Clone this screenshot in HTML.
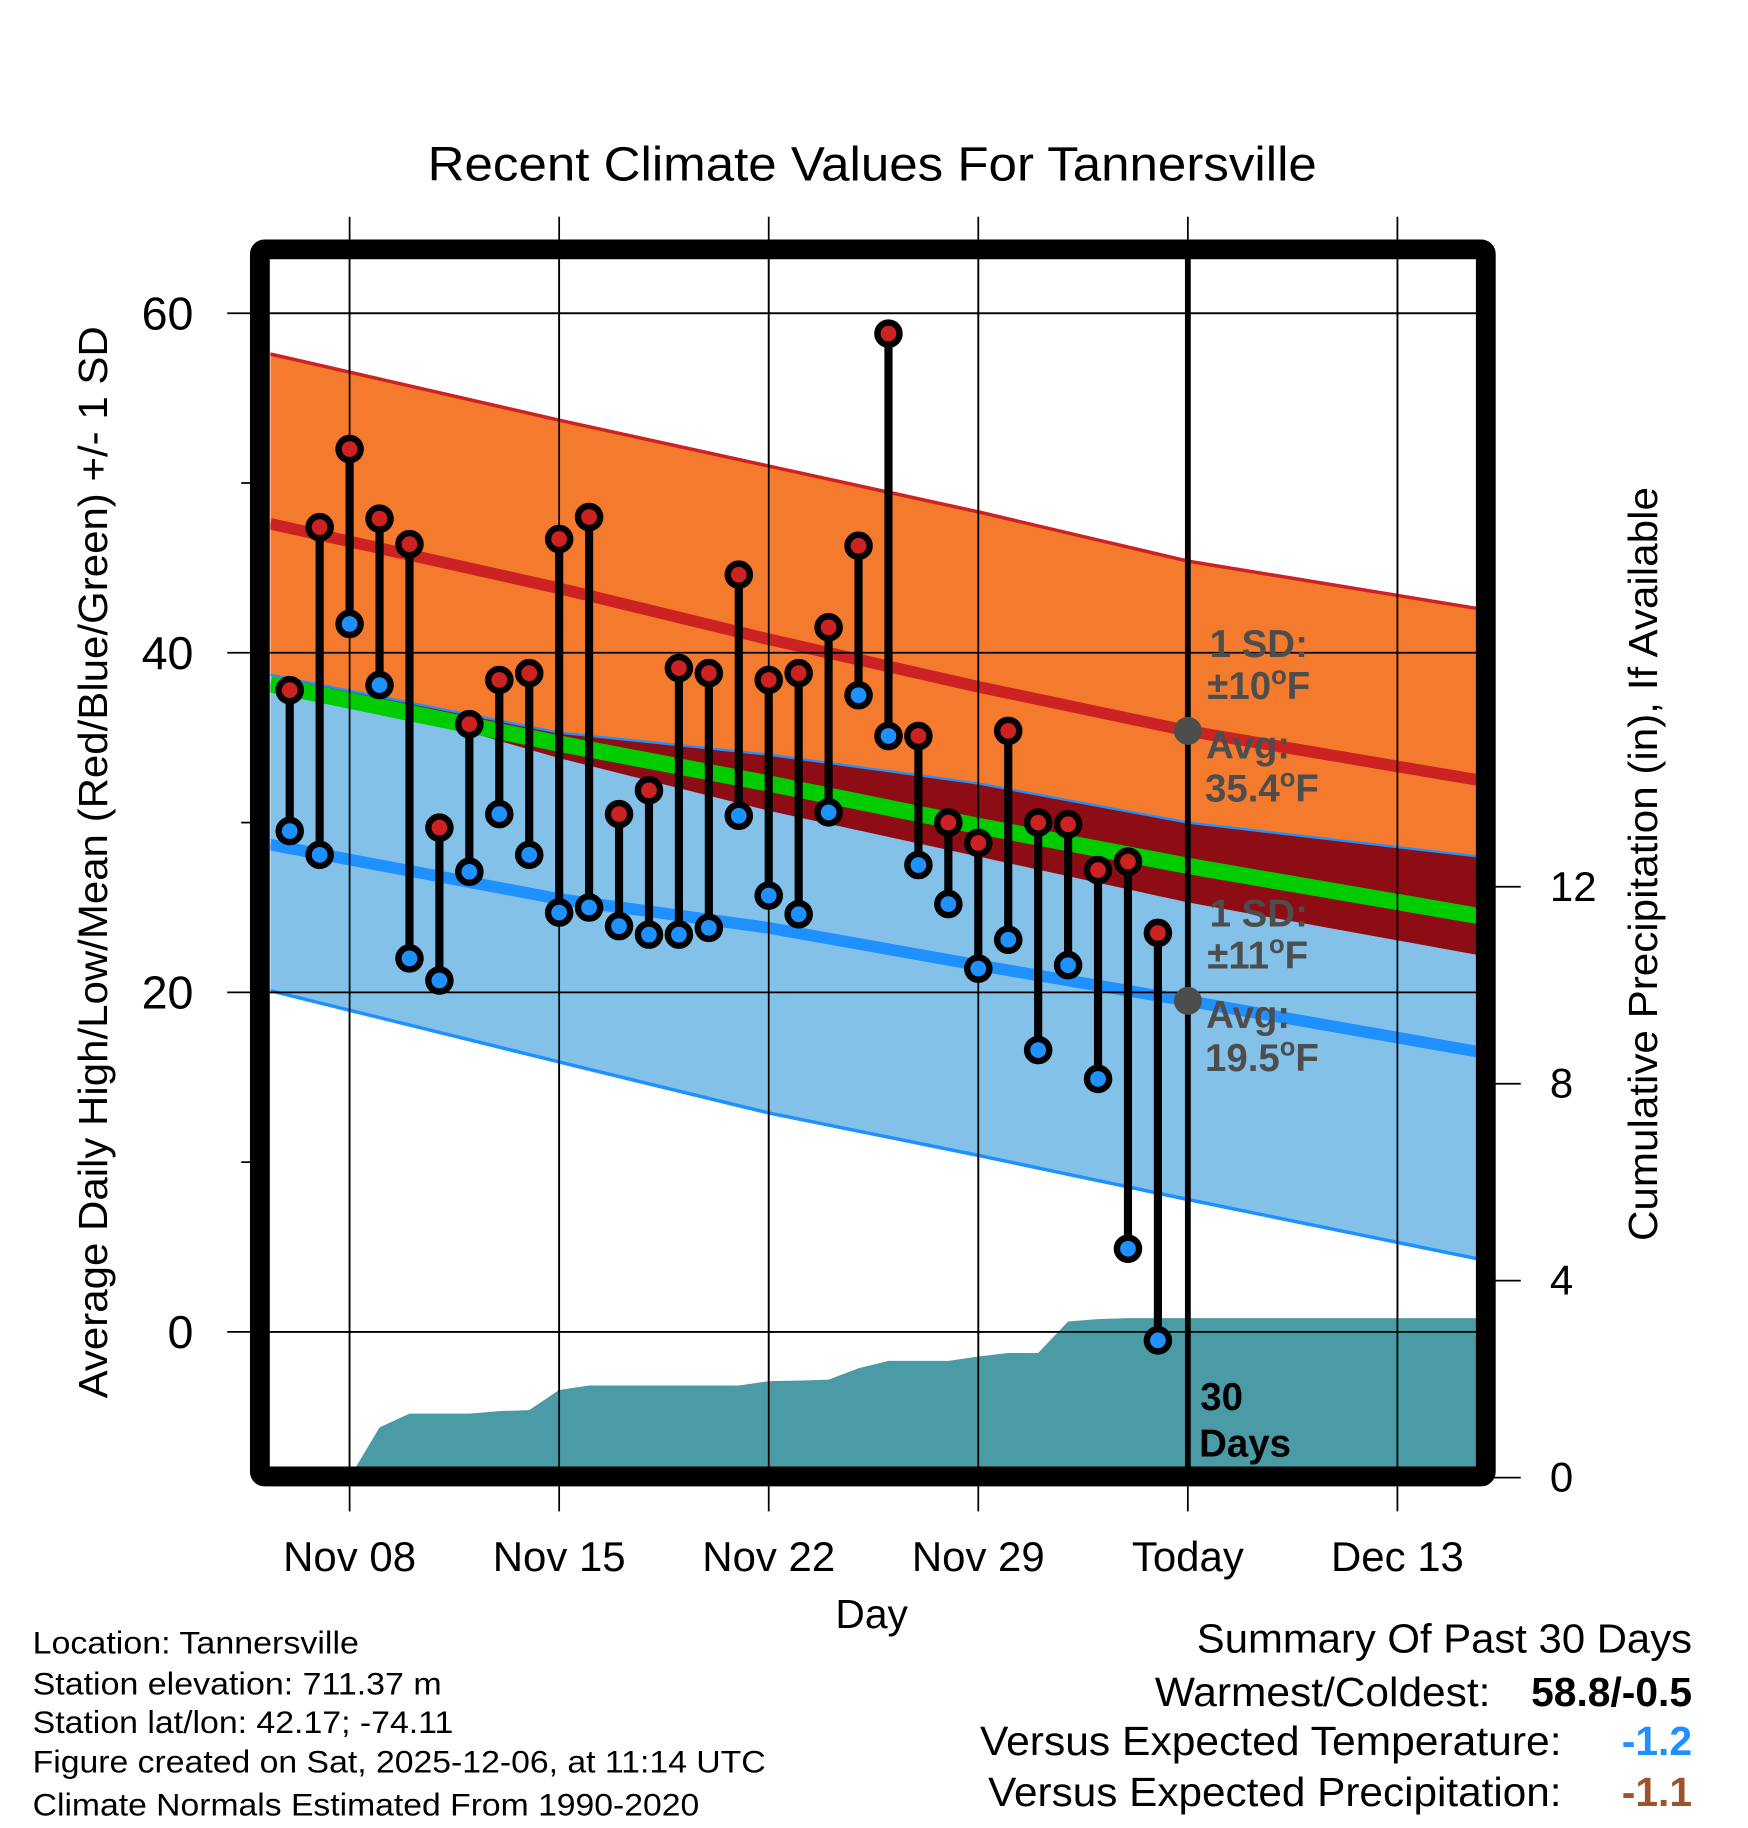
<!DOCTYPE html>
<html><head><meta charset="utf-8"><style>
html,body{margin:0;padding:0;background:#fff;}
svg{display:block;font-family:"Liberation Sans",Arial,sans-serif;}
</style></head><body>
<svg id="chart" width="1748" height="1828" viewBox="0 0 1500 1568.7" preserveAspectRatio="none" xmlns="http://www.w3.org/2000/svg">
<g id="bg"></g>
<g id="grid"></g>
<g id="marks"></g>
<g id="frame"></g>
<g id="labels"></g>
</svg>
<script>
// ---- data ----
const dayOffsets = [-2,-1,0,1,2,3,4,5,6,7,8,9,10,11,12,13,14,15,16,17,18,19,20,21,22,23,24,25,26,27]; // days relative to Nov 08
const highs = [37.8,47.4,52.0,47.9,46.4,29.7,35.8,38.4,38.8,46.7,48.0,30.5,31.9,39.1,38.8,44.6,38.4,38.8,41.5,46.3,58.8,35.1,30.0,28.8,35.4,30.0,29.9,27.2,27.7,23.5];
const lows = [29.5,28.1,41.7,38.1,22.0,20.7,27.1,30.5,28.1,24.7,25.0,23.9,23.4,23.4,23.8,30.4,25.7,24.6,30.6,37.5,35.1,27.5,25.2,21.4,23.1,16.6,21.6,14.9,4.9,-0.5];
const precipCum = [0,0,0,1.02,1.30,1.30,1.30,1.35,1.37,1.78,1.87,1.87,1.87,1.87,1.87,1.87,1.96,1.97,1.99,2.22,2.37,2.37,2.37,2.46,2.53,2.53,3.17,3.22,3.24,3.24];
const normDays = [-2.65,7,14,21,28,37.7];
const normHigh = [47.6,43.8,40.8,38.0,35.4,32.5];
const normHighUpper = [57.6,53.7,51.0,48.3,45.4,42.6];
const normHighLower = [38.7,33.8,30.7,28.0,25.3,22.2];
const normLow = [28.7,25.5,23.8,21.6,19.5,16.5];
const normLowUpper = [38.7,35.3,34.0,32.3,30.0,28.0];
const normLowLower = [20.1,15.9,12.9,10.4,7.8,4.3];
const tempTicks = [0,20,40,60];
const tempMinorTicks = [10,30,50];
const precipTicks = [0,4,8,12];
const dateTickDays = [0,7,14,21,28,35];
const dateTickLabels = ["Nov 08","Nov 15","Nov 22","Nov 29","Today","Dec 13"];
const todayDay = 28;

// ---- axes ----
const L=232,R=1268,T=222,B=1259;
const xs = d => 300 + d*25.69;
const ys = t => 1143 - t*14.57;
const yp = p => 1268 - p*42.25;
const NS="http://www.w3.org/2000/svg";
function mk(parent,tag,attrs){const e=document.createElementNS(NS,tag);for(const k in attrs)e.setAttribute(k,attrs[k]);document.getElementById(parent).appendChild(e);return e;}
function txt(parent,s,attrs){const e=mk(parent,'text',attrs);e.textContent=s;return e;}

const defs=mk('bg','defs',{});
const cp=document.createElementNS(NS,'clipPath');cp.setAttribute('id','plotclip');
const cr=document.createElementNS(NS,'rect');cr.setAttribute('x',L);cr.setAttribute('y',T);cr.setAttribute('width',R-L);cr.setAttribute('height',B-T);
cp.appendChild(cr);defs.appendChild(cp);
document.getElementById('marks').setAttribute('clip-path','url(#plotclip)');

function bandPts(upper,lower){
  let a=normDays.map((d,i)=>xs(d)+','+ys(upper[i]));
  let b=normDays.map((d,i)=>xs(d)+','+ys(lower[i])).reverse();
  return a.concat(b).join(' ');
}
function linePts(arr){return normDays.map((d,i)=>xs(d)+','+ys(arr[i])).join(' ');}

let e;
e=mk('marks','polygon',{points:bandPts(normHighUpper,normHighLower),fill:'#F47A2E'});

e=mk('marks','polygon',{points:bandPts(normLowUpper,normLowLower),fill:'#83C1E8'});

const ovLower=normHighLower.map((v,i)=>Math.min(v,normLowUpper[i]));
e=mk('marks','polygon',{points:bandPts(normLowUpper,ovLower),fill:'#8E0C14'});

e=mk('marks','polyline',{points:linePts(normHighUpper),fill:'none',stroke:'#CC2222','stroke-width':3});

e=mk('marks','polyline',{points:linePts(normLowUpper),fill:'none',stroke:'#1E90FF','stroke-width':2});

e=mk('marks','polyline',{points:linePts(normLowLower),fill:'none',stroke:'#1E90FF','stroke-width':3});

const normMean=normHigh.map((v,i)=>(v+normLow[i])/2);
e=mk('marks','polyline',{points:linePts(normMean),fill:'none',stroke:'#00CC00','stroke-width':14});

e=mk('marks','polyline',{points:linePts(normHigh),fill:'none',stroke:'#CC2222','stroke-width':10});

e=mk('marks','polyline',{points:linePts(normLow),fill:'none',stroke:'#1E90FF','stroke-width':10});


let pp=dayOffsets.map((d,i)=>xs(d)+','+yp(precipCum[i]));
pp.push(R+','+yp(precipCum[precipCum.length-1]));
pp.push(R+','+(B+20));pp.push(xs(dayOffsets[0])+','+(B+20));
e=mk('marks','polygon',{points:pp.join(' '),fill:'#4A9BA5'});


tempTicks.forEach(t=>{e=mk('grid','line',{x1:195,x2:R,y1:ys(t),y2:ys(t),stroke:'#000','stroke-width':1.5});
});
tempMinorTicks.forEach(t=>{e=mk('frame','line',{x1:207,x2:220,y1:ys(t),y2:ys(t),stroke:'#000','stroke-width':1.5});
});
precipTicks.forEach(p=>{e=mk('frame','line',{x1:1280,x2:1305,y1:yp(p),y2:yp(p),stroke:'#000','stroke-width':1.5});
});
dateTickDays.forEach(d=>{e=mk('grid','line',{x1:xs(d),x2:xs(d),y1:186,y2:1297,stroke:'#000','stroke-width':1.5});
});
tempTicks.forEach(t=>{e=mk('marks','line',{x1:L,x2:R,y1:ys(t),y2:ys(t),stroke:'#000','stroke-width':1.5});
});
dateTickDays.forEach(d=>{e=mk('marks','line',{x1:xs(d),x2:xs(d),y1:T,y2:B,stroke:'#000','stroke-width':1.5});
});
e=mk('marks','line',{x1:xs(todayDay),x2:xs(todayDay),y1:T,y2:B,stroke:'#000','stroke-width':5});


dayOffsets.forEach((d,i)=>{
  const x=xs(d);
  let s=mk('marks','line',{x1:x,x2:x,y1:ys(highs[i]),y2:ys(lows[i]),stroke:'#000','stroke-width':7});
  
  
});
dayOffsets.forEach((d,i)=>{
  const x=xs(d);
  let h=mk('marks','circle',{cx:x,cy:ys(highs[i]),r:9.5,fill:'#CC2222',stroke:'#000','stroke-width':5.5});
  
  
  let l=mk('marks','circle',{cx:x,cy:ys(lows[i]),r:9.5,fill:'#1E90FF',stroke:'#000','stroke-width':5.5});
  
  
});
const todayIdx=4;
e=mk('marks','circle',{cx:xs(todayDay),cy:ys(normHigh[todayIdx]),r:12,fill:'#4D4D4D'});

e=mk('marks','circle',{cx:xs(todayDay),cy:ys(normLow[todayIdx]),r:12,fill:'#4D4D4D'});


e=mk('frame','rect',{x:223,y:214,width:1052,height:1053,rx:4,fill:'none',stroke:'#000','stroke-width':17});


const A={fill:'#4D4D4D','font-weight':'bold','font-size':33};
function ann(s,x,y,name){const t=txt('labels',s,Object.assign({x:x,y:y},A));return t;}
function annDeg(pre,post,x,y,name){const t=mk('labels','text',Object.assign({x:x,y:y},A));
 const a=document.createElementNS(NS,'tspan');a.textContent=pre;t.appendChild(a);
 const b=document.createElementNS(NS,'tspan');b.setAttribute('dy',-13);b.setAttribute('font-size',22);b.textContent='o';t.appendChild(b);
 const c=document.createElementNS(NS,'tspan');c.setAttribute('dy',13);c.textContent=post;t.appendChild(c);}
ann('1 SD:',1038,564,'high-sd-label');
annDeg('±10','F',1036,600,'high-sd-value');
ann('Avg:',1035,651,'high-avg-label');
annDeg('35.4','F',1034,688,'high-avg-value');
ann('1 SD:',1038,795,'low-sd-label');
annDeg('±11','F',1036,831,'low-sd-value');
ann('Avg:',1035,882,'low-avg-label');
annDeg('19.5','F',1034,919,'low-avg-value');
e=txt('labels','30',{x:1030,y:1210,'font-size':33,'font-weight':'bold',fill:'#000'});
e=txt('labels','Days',{x:1029,y:1250,'font-size':33,'font-weight':'bold',fill:'#000'});

tempTicks.forEach(t=>{e=txt('labels',String(t),{x:166,y:ys(t)+14,'font-size':40,'text-anchor':'end'});
});
precipTicks.forEach(p=>{e=txt('labels',String(p),{x:1330,y:yp(p)+12,'font-size':36});
});
dateTickDays.forEach((d,i)=>{e=txt('labels',dateTickLabels[i],{x:xs(d),y:1348,'font-size':36,'text-anchor':'middle'});
});
</script>
<svg style="position:absolute;left:0;top:0" width="1748" height="1828" viewBox="0 0 1500 1568.7" preserveAspectRatio="none" xmlns="http://www.w3.org/2000/svg" font-family="Liberation Sans, Arial, sans-serif">
<text x="367" y="155" font-size="41" textLength="763" lengthAdjust="spacingAndGlyphs">Recent Climate Values For Tannersville</text>
<text x="748" y="1397" font-size="35" text-anchor="middle">Day</text>
<text transform="translate(92,1200) rotate(-90)" font-size="35" textLength="920" lengthAdjust="spacingAndGlyphs">Average Daily High/Low/Mean (Red/Blue/Green) +/- 1 SD</text>
<text transform="translate(1422,1065) rotate(-90)" font-size="35" textLength="647" lengthAdjust="spacingAndGlyphs">Cumulative Precipitation (in), If Available</text>
<g font-size="27">
<text x="28" y="1419" textLength="280" lengthAdjust="spacingAndGlyphs">Location: Tannersville</text>
<text x="28" y="1454" textLength="351" lengthAdjust="spacingAndGlyphs">Station elevation: 711.37 m</text>
<text x="28" y="1487" textLength="361" lengthAdjust="spacingAndGlyphs">Station lat/lon: 42.17; -74.11</text>
<text x="28" y="1521" textLength="629" lengthAdjust="spacingAndGlyphs">Figure created on Sat, 2025-12-06, at 11:14 UTC</text>
<text x="28" y="1558" textLength="572" lengthAdjust="spacingAndGlyphs">Climate Normals Estimated From 1990-2020</text>
</g>
<g font-size="35">
<text x="1027" y="1418" textLength="425" lengthAdjust="spacingAndGlyphs">Summary Of Past 30 Days</text>
<text x="991" y="1464" textLength="288" lengthAdjust="spacingAndGlyphs">Warmest/Coldest:</text>
<text x="1452" y="1464" text-anchor="end" font-weight="bold">58.8/-0.5</text>
<text x="841" y="1506" textLength="499" lengthAdjust="spacingAndGlyphs">Versus Expected Temperature:</text>
<text x="1452" y="1506" text-anchor="end" font-weight="bold" fill="#1E90FF">-1.2</text>
<text x="848" y="1550" textLength="492" lengthAdjust="spacingAndGlyphs">Versus Expected Precipitation:</text>
<text x="1452" y="1550" text-anchor="end" font-weight="bold" fill="#A0522D">-1.1</text>
</g>
</svg>
</body></html>
